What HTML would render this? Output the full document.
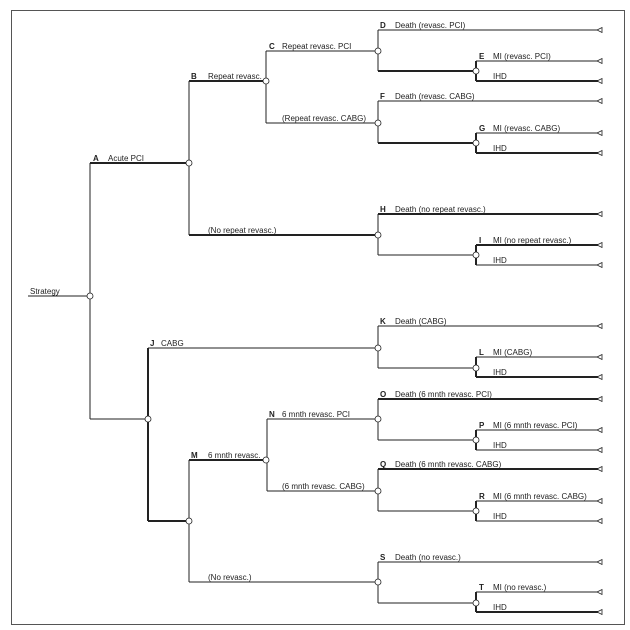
<!DOCTYPE html>
<html><head><meta charset="utf-8"><style>
html,body{margin:0;padding:0;background:#fff;}
svg{display:block;}
text{font-family:"Liberation Sans",Arial,sans-serif;font-size:8px;fill:#222;}
.b{font-weight:bold;}
</style></head><body>
<svg width="630" height="630" viewBox="0 0 630 630" xmlns="http://www.w3.org/2000/svg">
<rect x="0" y="0" width="630" height="630" fill="#fff"/>
<rect x="11.5" y="10.5" width="613" height="614" fill="none" stroke="#555" stroke-width="1"/>
<g stroke="#222" fill="none" stroke-width="1">
<!-- Strategy -->
<line x1="28" y1="296" x2="90" y2="296"/>
<line x1="90" y1="163" x2="90" y2="419"/>
<line x1="90" y1="163" x2="189" y2="163" stroke-width="2"/>
<line x1="90" y1="419" x2="148" y2="419"/>
<!-- B -->
<line x1="189" y1="81" x2="189" y2="235"/>
<line x1="189" y1="81" x2="266" y2="81" stroke-width="2"/>
<line x1="189" y1="235" x2="378" y2="235" stroke-width="2"/>
<!-- C -->
<line x1="266" y1="51" x2="266" y2="123"/>
<line x1="266" y1="51" x2="378" y2="51"/>
<line x1="266" y1="123" x2="378" y2="123"/>
<!-- J -->
<line x1="148" y1="348" x2="148" y2="521" stroke-width="2"/>
<line x1="148" y1="348" x2="378" y2="348"/>
<line x1="148" y1="521" x2="189" y2="521" stroke-width="2"/>
<!-- M -->
<line x1="189" y1="460" x2="189" y2="582"/>
<line x1="189" y1="460" x2="266" y2="460" stroke-width="2"/>
<line x1="189" y1="582" x2="378" y2="582"/>
<!-- N -->
<line x1="267" y1="419" x2="267" y2="491"/>
<line x1="267" y1="419" x2="378" y2="419"/>
<line x1="267" y1="491" x2="378" y2="491"/>
</g>
<g id="sub" stroke="#222" fill="none" stroke-width="1">
<!-- D/E -->
<line x1="378" y1="30" x2="378" y2="71"/><line x1="378" y1="30" x2="600" y2="30"/>
<line x1="378" y1="71" x2="476" y2="71" stroke-width="2"/>
<line x1="476" y1="61" x2="476" y2="81" stroke-width="2"/>
<line x1="476" y1="61" x2="600" y2="61"/><line x1="476" y1="81" x2="600" y2="81" stroke-width="2"/>
<!-- F/G -->
<line x1="378" y1="101" x2="378" y2="143"/><line x1="378" y1="101" x2="600" y2="101"/>
<line x1="378" y1="143" x2="476" y2="143" stroke-width="2"/>
<line x1="476" y1="133" x2="476" y2="153" stroke-width="2"/>
<line x1="476" y1="133" x2="600" y2="133"/><line x1="476" y1="153" x2="600" y2="153" stroke-width="2"/>
<!-- H/I -->
<line x1="378" y1="214" x2="378" y2="255"/><line x1="378" y1="214" x2="600" y2="214" stroke-width="2"/>
<line x1="378" y1="255" x2="476" y2="255"/>
<line x1="476" y1="245" x2="476" y2="265" stroke-width="2"/>
<line x1="476" y1="245" x2="600" y2="245" stroke-width="2"/><line x1="476" y1="265" x2="600" y2="265"/>
<!-- K/L -->
<line x1="378" y1="326" x2="378" y2="368"/><line x1="378" y1="326" x2="600" y2="326"/>
<line x1="378" y1="368" x2="476" y2="368"/>
<line x1="476" y1="357" x2="476" y2="377" stroke-width="2"/>
<line x1="476" y1="357" x2="600" y2="357"/><line x1="476" y1="377" x2="600" y2="377" stroke-width="2"/>
<!-- O/P -->
<line x1="378" y1="399" x2="378" y2="440"/><line x1="378" y1="399" x2="600" y2="399" stroke-width="2"/>
<line x1="378" y1="440" x2="476" y2="440"/>
<line x1="476" y1="430" x2="476" y2="450" stroke-width="2"/>
<line x1="476" y1="430" x2="600" y2="430"/><line x1="476" y1="450" x2="600" y2="450"/>
<!-- Q/R -->
<line x1="378" y1="469" x2="378" y2="511"/><line x1="378" y1="469" x2="600" y2="469" stroke-width="2"/>
<line x1="378" y1="511" x2="476" y2="511"/>
<line x1="476" y1="501" x2="476" y2="521" stroke-width="2"/>
<line x1="476" y1="501" x2="600" y2="501"/><line x1="476" y1="521" x2="600" y2="521"/>
<!-- S/T -->
<line x1="378" y1="562" x2="378" y2="603"/><line x1="378" y1="562" x2="600" y2="562"/>
<line x1="378" y1="603" x2="476" y2="603"/>
<line x1="476" y1="592" x2="476" y2="612" stroke-width="2"/>
<line x1="476" y1="592" x2="600" y2="592"/><line x1="476" y1="612" x2="600" y2="612" stroke-width="2"/>
</g>
<g fill="#fff" stroke="#222" stroke-width="0.8">
<circle cx="90" cy="296" r="3"/><circle cx="189" cy="163" r="3"/><circle cx="266" cy="81" r="3"/>
<circle cx="148" cy="419" r="3"/><circle cx="189" cy="521" r="3"/><circle cx="266" cy="460" r="3"/>
<circle cx="378" cy="51" r="3"/><circle cx="378" cy="123" r="3"/><circle cx="378" cy="235" r="3"/>
<circle cx="378" cy="348" r="3"/><circle cx="378" cy="419" r="3"/><circle cx="378" cy="491" r="3"/><circle cx="378" cy="582" r="3"/>
<circle cx="476" cy="71" r="3"/><circle cx="476" cy="143" r="3"/><circle cx="476" cy="255" r="3"/><circle cx="476" cy="368" r="3"/>
<circle cx="476" cy="440" r="3"/><circle cx="476" cy="511" r="3"/><circle cx="476" cy="603" r="3"/>
</g>
<g fill="#fff" stroke="#222" stroke-width="0.8">
<path d="M597 30l5-2.5v5z"/><path d="M597 61l5-2.5v5z"/><path d="M597 81l5-2.5v5z"/>
<path d="M597 101l5-2.5v5z"/><path d="M597 133l5-2.5v5z"/><path d="M597 153l5-2.5v5z"/>
<path d="M597 214l5-2.5v5z"/><path d="M597 245l5-2.5v5z"/><path d="M597 265l5-2.5v5z"/>
<path d="M597 326l5-2.5v5z"/><path d="M597 357l5-2.5v5z"/><path d="M597 377l5-2.5v5z"/>
<path d="M597 399l5-2.5v5z"/><path d="M597 430l5-2.5v5z"/><path d="M597 450l5-2.5v5z"/>
<path d="M597 469l5-2.5v5z"/><path d="M597 501l5-2.5v5z"/><path d="M597 521l5-2.5v5z"/>
<path d="M597 562l5-2.5v5z"/><path d="M597 592l5-2.5v5z"/><path d="M597 612l5-2.5v5z"/>
</g>
<g>
<text x="30" y="294">Strategy</text>
<text x="93" y="161" class="b">A</text><text x="108" y="161">Acute PCI</text>
<text x="191" y="79" class="b">B</text><text x="208" y="79">Repeat revasc.</text>
<text x="269" y="49" class="b">C</text><text x="282" y="49">Repeat revasc. PCI</text>
<text x="282" y="121">(Repeat revasc. CABG)</text>
<text x="208" y="233">(No repeat revasc.)</text>
<text x="150" y="346" class="b">J</text><text x="161" y="346">CABG</text>
<text x="191" y="458" class="b">M</text><text x="208" y="458">6 mnth revasc.</text>
<text x="269" y="417" class="b">N</text><text x="282" y="417">6 mnth revasc. PCI</text>
<text x="282" y="489">(6 mnth revasc. CABG)</text>
<text x="208" y="580">(No revasc.)</text>
<text x="380" y="28" class="b">D</text><text x="395" y="28">Death (revasc. PCI)</text>
<text x="479" y="59" class="b">E</text><text x="493" y="59">MI (revasc. PCI)</text><text x="493" y="79">IHD</text>
<text x="380" y="99" class="b">F</text><text x="395" y="99">Death (revasc. CABG)</text>
<text x="479" y="131" class="b">G</text><text x="493" y="131">MI (revasc. CABG)</text><text x="493" y="151">IHD</text>
<text x="380" y="212" class="b">H</text><text x="395" y="212">Death (no repeat revasc.)</text>
<text x="479" y="243" class="b">I</text><text x="493" y="243">MI (no repeat revasc.)</text><text x="493" y="263">IHD</text>
<text x="380" y="324" class="b">K</text><text x="395" y="324">Death (CABG)</text>
<text x="479" y="355" class="b">L</text><text x="493" y="355">MI (CABG)</text><text x="493" y="375">IHD</text>
<text x="380" y="397" class="b">O</text><text x="395" y="397">Death (6 mnth revasc. PCI)</text>
<text x="479" y="428" class="b">P</text><text x="493" y="428">MI (6 mnth revasc. PCI)</text><text x="493" y="448">IHD</text>
<text x="380" y="467" class="b">Q</text><text x="395" y="467">Death (6 mnth revasc. CABG)</text>
<text x="479" y="499" class="b">R</text><text x="493" y="499">MI (6 mnth revasc. CABG)</text><text x="493" y="519">IHD</text>
<text x="380" y="560" class="b">S</text><text x="395" y="560">Death (no revasc.)</text>
<text x="479" y="590" class="b">T</text><text x="493" y="590">MI (no revasc.)</text><text x="493" y="610">IHD</text>
</g>
</svg>
</body></html>
